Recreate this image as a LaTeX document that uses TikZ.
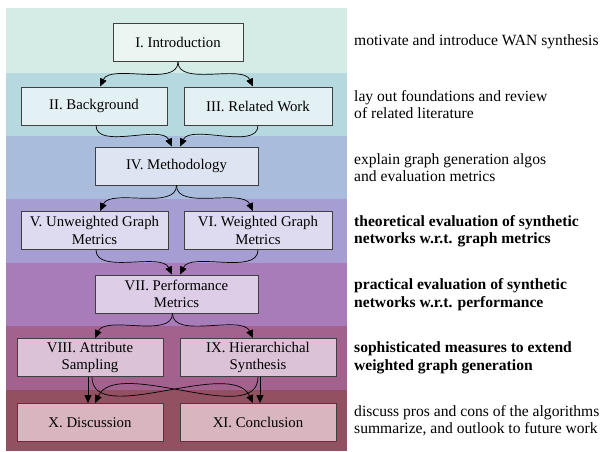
\documentclass[tikz,border=0pt]{standalone}
\usepackage{fontspec}
\setmainfont{Liberation Serif}
\usetikzlibrary{arrows.meta}

\definecolor{bandA}{HTML}{D4ECE5}
\definecolor{bandB}{HTML}{B6D9DF}
\definecolor{bandC}{HTML}{A9BCDC}
\definecolor{bandD}{HTML}{A69ED2}
\definecolor{bandE}{HTML}{A77CB8}
\definecolor{bandF}{HTML}{A3628E}
\definecolor{bandG}{HTML}{925060}
\definecolor{boxA}{HTML}{EBF6F2}
\definecolor{boxB}{HTML}{E4F1F4}
\definecolor{boxC}{HTML}{DEE5F2}
\definecolor{boxD}{HTML}{DEDBF1}
\definecolor{boxE}{HTML}{DDCDE6}
\definecolor{boxF}{HTML}{DCC2D6}
\definecolor{boxG}{HTML}{D8B5BF}

\tikzset{
  sec/.style={draw=black!75, line width=0.8pt, minimum height=38pt, align=center,
    inner sep=2pt, font=\fontsize{14.8}{17.5}\selectfont},
  note/.style={anchor=west, align=left, inner sep=0pt, font=\fontsize{15.6}{17.5}\selectfont},
  flow/.style={-{Triangle[length=8pt,width=7pt]}, line width=0.7pt},
  toleft/.style={out=-90, in=65, looseness=0.8},
  toright/.style={out=-90, in=115, looseness=0.8},
}

\begin{document}
\begin{tikzpicture}[x=1pt,y=1pt]
\useasboundingbox (0,-452) rectangle (603,0);
% bands
\fill[bandA] (6,-8) rectangle (347,-73);
\fill[bandB] (6,-73) rectangle (347,-136);
\fill[bandC] (6,-136) rectangle (347,-199);
\fill[bandD] (6,-199) rectangle (347,-263);
\fill[bandE] (6,-263) rectangle (347,-326);
\fill[bandF] (6,-326) rectangle (347,-390);
\fill[bandG] (6,-390) rectangle (347,-451);

% sections
\node[sec, fill=boxA, minimum width=130pt] (intro) at (178,-42.5) {I. Introduction};
\node[sec, fill=boxB, minimum width=146pt] (bg) at (94,-106) {II. Background};
\node[sec, fill=boxB, minimum width=148pt] (rel) at (258,-106) {III. Related Work};
\node[sec, fill=boxC, minimum width=163pt] (meth) at (176.5,-166) {IV. Methodology};
\node[sec, fill=boxD, minimum width=147pt] (unw) at (94.5,-230.5) {V. Unweighted Graph\\Metrics};
\node[sec, fill=boxD, minimum width=148pt] (wei) at (258,-230.5) {VI. Weighted Graph\\Metrics};
\node[sec, fill=boxE, minimum width=163pt] (perf) at (176.5,-294) {VII. Performance\\Metrics};
\node[sec, fill=boxF, minimum width=146pt] (attr) at (90,-357.5) {VIII. Attribute\\Sampling};
\node[sec, fill=boxF, minimum width=156pt] (hier) at (258,-357.5) {IX. Hierarchichal\\Synthesis};
\node[sec, fill=boxG, minimum width=146pt] (disc) at (90,-422.5) {X. Discussion};
\node[sec, fill=boxG, minimum width=156pt] (conc) at (258,-422.5) {XI. Conclusion};

% flow
\draw[flow] (intro.south) to[toleft] ([xshift=6pt]bg.north);
\draw[flow] (intro.south) to[toright] ([xshift=-5pt]rel.north);
\draw[flow] ([xshift=2pt]bg.south) to[toright] ([xshift=-4.5pt]meth.north);
\draw[flow] (rel.south) to[toleft] ([xshift=3.5pt]meth.north);
\draw[flow] (meth.south) to[toleft] ([xshift=5.5pt]unw.north);
\draw[flow] (meth.south) to[toright] ([xshift=-5pt]wei.north);
\draw[flow] ([xshift=1.5pt]unw.south) to[toright] ([xshift=-4.5pt]perf.north);
\draw[flow] (wei.south) to[toleft] ([xshift=3.5pt]perf.north);
\draw[flow] ([xshift=-4pt]perf.south) to[toleft] ([xshift=5pt]attr.north);
\draw[flow] ([xshift=-4pt]perf.south) to[toright] ([xshift=-5pt]hier.north);
\draw[flow] ([xshift=-2pt]attr.south) -- ([xshift=-2pt]disc.north);
\draw[flow] ([xshift=2pt]attr.south) to[toright] ([xshift=-5pt]conc.north);
\draw[flow] ([xshift=2pt]hier.south) -- ([xshift=2pt]conc.north);
\draw[flow] (hier.south) to[toleft] ([xshift=5pt]disc.north);

% notes
\node[note] (n1) at (354,-42) {motivate and introduce WAN synthesis};
\node[note] (n2) at (354,-104.5) {lay out foundations and review\\of related literature};
\node[note] (n3) at (354,-167.5) {explain graph generation algos\\and evaluation metrics};
\node[note, font=\fontsize{15.6}{17.5}\selectfont\bfseries] (n4) at (354,-231) {theoretical evaluation of synthetic\\networks w.r.t. graph metrics};
\node[note, font=\fontsize{15.6}{17.5}\selectfont\bfseries] (n5) at (354,-294.5) {practical evaluation of synthetic\\networks w.r.t. performance};
\node[note, font=\fontsize{15.6}{17.5}\selectfont\bfseries] (n6) at (354,-358) {sophisticated measures to extend\\weighted graph generation};
\node[note] (n7) at (354,-420.5) {discuss pros and cons of the algorithms\\summarize, and outlook to future work};
\end{tikzpicture}
\end{document}
